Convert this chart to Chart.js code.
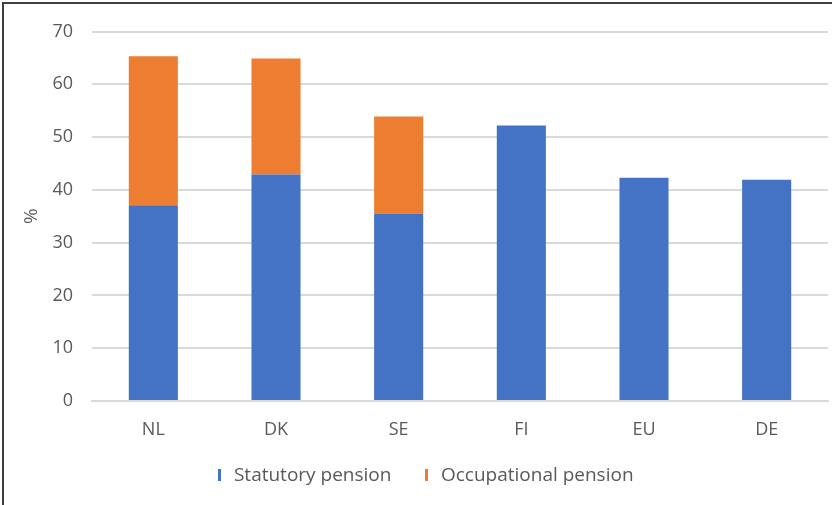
<!DOCTYPE html>
<html>
<head>
<meta charset="utf-8">
<script src="https://cdn.jsdelivr.net/npm/chart.js@4"></script>
<style>
  html, body { margin: 0; padding: 0; background: #fff; }
  #wrap { position: relative; width: 832px; height: 505px; }
  #frame { position: absolute; left: 2px; top: 2px; right: 0; bottom: 0;
           border-top: 2px solid #404040; border-left: 2px solid #404040; pointer-events: none; }
</style>
</head>
<body>
<div id="wrap">
  <canvas id="chart" width="832" height="505"></canvas>
  <div id="frame"></div>
</div>
<script>
const countries = ["NL", "DK", "SE", "FI", "EU", "DE"];
const statutory = [37.1, 42.9, 35.5, 52.2, 42.3, 41.9];
const occupational = [28.2, 22.0, 18.4, null, null, null];

const FONT = "'Open Sans', sans-serif";
const GREY = "#595959";

// thin vertical legend marker
function marker(color) {
  const c = document.createElement("canvas");
  c.width = 3; c.height = 12;
  const g = c.getContext("2d");
  g.fillStyle = color;
  g.fillRect(0, 0, 3, 12);
  return c;
}

// pull the legend up a bit closer to the axis labels
const legendShift = {
  id: "legendShift",
  afterLayout(chart) {
    if (chart.legend) {
      chart.legend.top -= 15;
      chart.legend.bottom -= 15;
    }
  }
};

const ctx = document.getElementById("chart").getContext("2d");
new Chart(ctx, {
  type: "bar",
  data: {
    labels: countries,
    datasets: [
      { label: "Statutory pension", data: statutory, backgroundColor: "#4472C4", pointStyle: marker("#4472C4") },
      { label: "Occupational pension", data: occupational, backgroundColor: "#ED7D31", pointStyle: marker("#ED7D31") }
    ]
  },
  options: {
    responsive: false,
    animation: false,
    datasets: { bar: { barPercentage: 0.4, categoryPercentage: 1.0 } },
    layout: { padding: { left: 20, right: 4, top: 31.5, bottom: 0 } },
    plugins: {
      tooltip: { enabled: false },
      legend: {
        position: "bottom",
        maxHeight: 54.4,
        labels: {
          usePointStyle: true, pointStyleWidth: 10,
          padding: 30,
          color: GREY,
          font: { family: FONT, size: 19 }
        }
      }
    },
    scales: {
      x: {
        stacked: true,
        grid: { display: false },
        border: { color: "#d9d9d9", width: 2 },
        ticks: { color: GREY, padding: 10, font: { family: FONT, size: 18 } }
      },
      y: {
        stacked: true,
        min: 0, max: 70,
        grid: { color: "#d9d9d9", lineWidth: 2, drawTicks: false },
        border: { display: false },
        ticks: { stepSize: 10, color: GREY, padding: 19, font: { family: FONT, size: 18 } },
        title: { display: true, text: "%", color: GREY, padding: 0, font: { family: FONT, size: 19 } },
        afterFit: (scale) => { scale.width = 72; }
      }
    }
  },
  plugins: [legendShift]
});
</script>
</body>
</html>
